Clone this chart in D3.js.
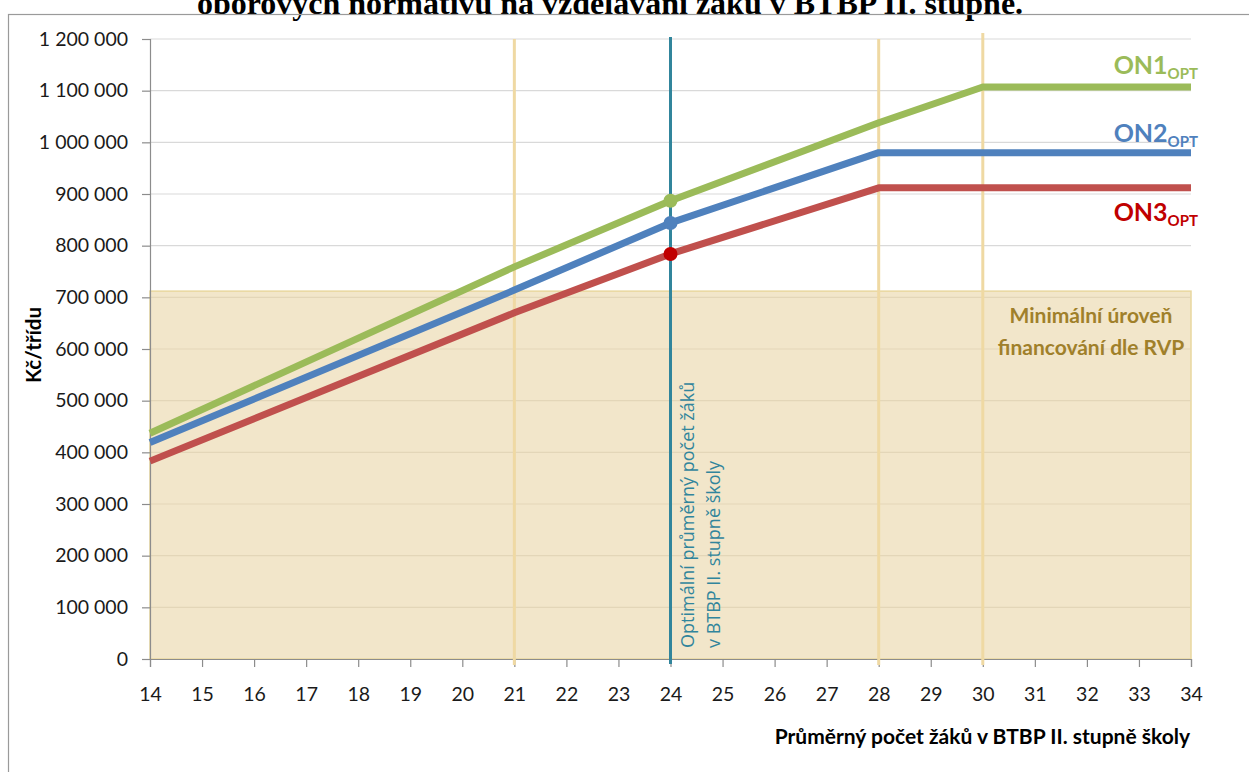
<!DOCTYPE html>
<html><head><meta charset="utf-8">
<script src="https://cdn.jsdelivr.net/npm/d3@7"></script>
<style>body{margin:0;background:#fff}svg{display:block}</style>
</head><body><svg id="c" width="1249" height="772"></svg>
<script>
const xTicks = d3.range(14, 35);
const yTicks = d3.range(0, 1200001, 100000);
const on1X = [14, 21, 24, 28, 30, 34];
const on1Y = [437000, 759000, 887000, 1038000, 1107000, 1107000];
const on2X = [14, 21, 24, 28, 34];
const on2Y = [419000, 714000, 844000, 980000, 980000];
const on3X = [14, 21, 24, 28, 34];
const on3Y = [383000, 670000, 784000, 912000, 912000];
const optimum = 24;
const markers = [887000, 844000, 784000];
const refLines = [21, 28, 30];
const minLevel = 712000;
const seriesNames = ["ON1", "ON2", "ON3"];

const svg = d3.select("#c");
const x = d3.scaleLinear().domain([14, 34]).range([150, 1191]);
const y = d3.scaleLinear().domain([0, 1200000]).range([659, 39]);
const fmt = v => d3.format(",")(v).replace(/,/g, " ");
const font = "Lato, 'Open Sans', sans-serif";

// title (clipped at top, as in the source)
svg.append("text").attr("x", 610).attr("y", 14).attr("text-anchor", "middle")
  .attr("font-family", "'Liberation Serif', 'Times New Roman', serif").attr("font-weight", "bold")
  .attr("font-size", 32).attr("fill", "#000")
  .text("oborových normativů na vzdělávání žáků v BTBP II. stupně.");
svg.append("rect").attr("x", 8.5).attr("y", 14.5).attr("width", 1300).attr("height", 800)
  .attr("fill", "none").attr("stroke", "#9a9a9a").attr("stroke-width", 1.2);

// min funding area
svg.append("rect").attr("x", x(14)).attr("y", y(minLevel)).attr("width", x(34) - x(14))
  .attr("height", y(0) - y(minLevel)).attr("fill", "#F2E6CA").attr("stroke", "#E9D79F").attr("stroke-width", 1.5);

// gridlines
svg.append("g").selectAll("line").data(yTicks.filter(d => d > 0)).join("line")
  .attr("x1", x(14)).attr("x2", x(34)).attr("y1", d => y(d)).attr("y2", d => y(d))
  .attr("stroke", d => d <= minLevel ? "#E3D6B8" : "#D9D9D9").attr("stroke-width", 1.2);

// axes
const yAxis = svg.append("g").attr("transform", `translate(${x(14)},0)`)
  .call(d3.axisLeft(y).tickValues(yTicks).tickFormat(fmt).tickSize(8).tickPadding(14));
const xAxis = svg.append("g").attr("transform", `translate(0,${y(0)})`)
  .call(d3.axisBottom(x).tickValues(xTicks).tickFormat(d3.format("d")).tickSize(8).tickPadding(20));
[yAxis, xAxis].forEach(g => {
  g.selectAll("path,line").attr("stroke", "#8c8c8c").attr("stroke-width", 1.2);
  g.selectAll("text").attr("font-family", font).attr("font-size", 19.5).attr("fill", "#1a1a1a");
});

// reference vertical lines
svg.append("g").selectAll("line").data(refLines).join("line")
  .attr("x1", d => x(d)).attr("x2", d => x(d))
  .attr("y1", d => d === 30 ? 33 : 39).attr("y2", 665)
  .attr("stroke", "#EFD9A3").attr("stroke-width", 3);

svg.append("line").attr("x1", x(optimum)).attr("x2", x(optimum)).attr("y1", 37).attr("y2", 664)
  .attr("stroke", "#31859C").attr("stroke-width", 3);

// series
const line = d3.line().x(d => x(d[0])).y(d => y(d[1]));
const series = [
  { xs: on1X, ys: on1Y, color: "#9BBB59" },
  { xs: on2X, ys: on2Y, color: "#4F81BD" },
  { xs: on3X, ys: on3Y, color: "#C0504D" }
];
series.forEach(s => {
  svg.append("path").datum(s.xs.map((v, i) => [v, s.ys[i]])).attr("d", line)
    .attr("fill", "none").attr("stroke", s.color).attr("stroke-width", 7).attr("stroke-linejoin", "round");
});
const markerColors = ["#9BBB59", "#4F81BD", "#C00000"];
svg.append("g").selectAll("circle").data(markers).join("circle")
  .attr("cx", x(optimum)).attr("cy", d => y(d)).attr("r", 7).attr("fill", (d, i) => markerColors[i]);

// series labels
const labelPos = [{ y: 74, c: "#9BBB59" }, { y: 142, c: "#4F81BD" }, { y: 221, c: "#C00000" }];
seriesNames.forEach((n, i) => {
  const t = svg.append("text").attr("x", 1198).attr("y", labelPos[i].y).attr("text-anchor", "end")
    .attr("font-family", font).attr("font-weight", "bold").attr("fill", labelPos[i].c);
  t.append("tspan").attr("font-size", 25).text(n);
  t.append("tspan").attr("font-size", 15).attr("dy", 5).text("OPT");
});

// min level label
const ml = svg.append("text").attr("text-anchor", "middle").attr("font-family", font)
  .attr("font-weight", "bold").attr("font-size", 21).attr("fill", "#A0802A");
ml.append("tspan").attr("x", 1091).attr("y", 323).text("Minimální úroveň");
ml.append("tspan").attr("x", 1091).attr("y", 355).text("financování dle RVP");

// optimum label
[["Optimální průměrný počet žáků", 694], ["v BTBP II. stupně školy", 720]].forEach(([t, cx]) => {
  svg.append("text").attr("transform", `translate(${cx},648) rotate(-90)`)
    .attr("font-family", "'Open Sans', sans-serif").attr("font-size", 18).attr("fill", "#31859C").text(t);
});

// axis titles
svg.append("text").attr("transform", "translate(41,345) rotate(-90)").attr("text-anchor", "middle")
  .attr("font-family", font).attr("font-weight", "bold").attr("font-size", 20.5).attr("fill", "#000").text("Kč/třídu");
svg.append("text").attr("x", 1190).attr("y", 744).attr("text-anchor", "end")
  .attr("font-family", font).attr("font-weight", "bold").attr("font-size", 21).attr("fill", "#000")
  .text("Průměrný počet žáků v BTBP II. stupně školy");
</script></body></html>
